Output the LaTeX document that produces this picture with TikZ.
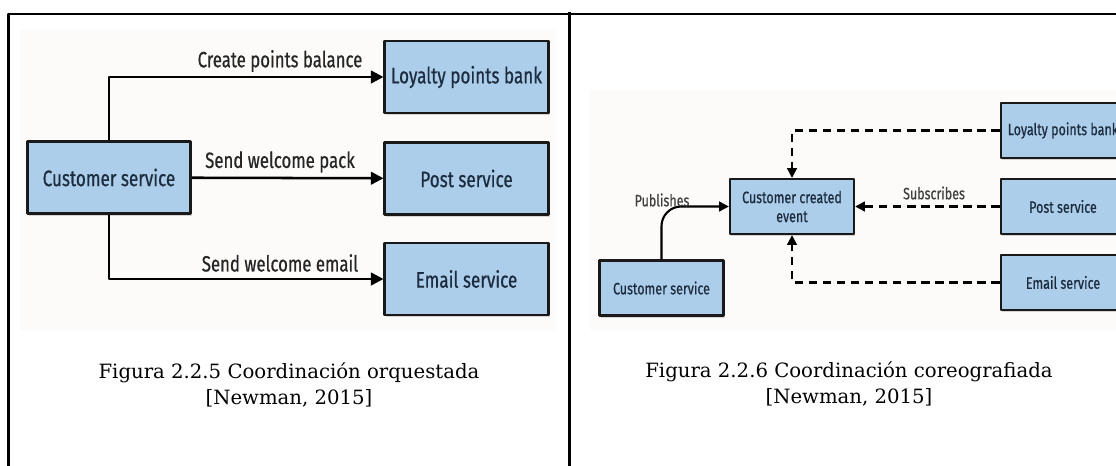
\documentclass[tikz,border=0pt]{standalone}
\usepackage{fontspec}
\setmainfont{DejaVu Serif}
\newfontfamily\boxfont[FakeStretch=0.76, FakeBold=0.6]{Fira Sans}
\usetikzlibrary{arrows.meta,shadows}
\definecolor{boxblue}{RGB}{172,206,234}
\definecolor{boxtext}{RGB}{28,44,62}
\definecolor{imgback}{RGB}{252,251,250}
\tikzset{
	svc/.style={draw=black!90, line width=2pt, fill=boxblue, text=boxtext, inner sep=0pt,
		drop shadow={shadow xshift=1pt, shadow yshift=-1.5pt, opacity=.3}},
	bigsvc/.style={svc, minimum width=4.08cm, minimum height=1.8cm, font=\boxfont\fontsize{16}{18}\selectfont},
	smallsvc/.style={svc, line width=1.6pt, minimum width=3.1cm, minimum height=1.375cm, align=center, font=\boxfont\fontsize{11.7}{13.5}\selectfont},
	biglbl/.style={inner sep=0pt, text=black!85, font=\boxfont\fontsize{15.7}{18}\selectfont},
	smalllbl/.style={inner sep=0pt, text=black!75, font=\boxfont\fontsize{11.7}{13}\selectfont},
	capt/.style={inner sep=0pt, align=center, font=\fontsize{14}{18.5}\selectfont},
}
\begin{document}
\begin{tikzpicture}[x=0.025cm, y=-0.025cm, line join=round, >={Triangle[length=9pt,width=9pt]}]
	\clip (0,0) rectangle (1116,466);
	% table frame
	\draw[line width=2pt] (8.5,466)--(8.5,14)--(1116,14) (569.5,12)--(569.5,466);
	\fill[imgback] (20,30) rectangle (556,330) (590,90) rectangle (1116,330);
	% orquestada
	\node[bigsvc] (cs1) at (109,177.5) {Customer service};
	\foreach \n/\y/\t in {lpb1/77/Loyalty points bank, ps1/178.5/Post service, es1/279/Email service}
	\node[bigsvc] (\n) at (466.5,\y) {\t};
	\draw[->, line width=1.8pt] (cs1.north) |- (lpb1);
	\draw[->, line width=1.8pt] (cs1) -- (ps1);
	\draw[->, line width=1.8pt] (cs1.south) |- (es1);
	\node[biglbl] (l1) at (280,61) {Create points balance};
	\node[biglbl] (l2) at (280,162) {Send welcome pack};
	\node[biglbl] (l3) at (280,263) {Send welcome email};
	\node[capt] (cap1) at (289,385) {Figura 2.2.5 Coordinación orquestada\\{[Newman, 2015]}};
	% coreografiada
	\node[smallsvc] (cs2) at (661.5,288) {Customer service};
	\node[smallsvc] (cce) at (792,206.5) {Customer created\\event};
	\foreach \n/\y/\t in {lpb2/130.5/Loyalty points bank, ps2/206.5/Post service, es2/282.5/Email service}
	\node[smallsvc] (\n) at (1063,\y) {\t};
	\draw[->, line width=1.5pt, rounded corners=14pt, >={Triangle[length=7pt,width=7pt]}] (cs2.north) |- (cce.west);
	\begin{scope}[line width=1.5pt, dash pattern=on 6pt off 4pt, >={Triangle[length=7pt,width=7pt]}]
		\draw[->] (lpb2.west) -| (cce.north);
		\draw[->] (ps2) -- (cce);
		\draw[->] (es2.west) -| (cce.south);
	\end{scope}
	\node[smalllbl] (l4) at (662,200) {Publishes};
	\node[smalllbl] (l5) at (934,193) {Subscribes};
	\node[capt] (cap2) at (849,383.5) {Figura 2.2.6 Coordinación coreografiada\\{[Newman, 2015]}};
\end{tikzpicture}
\end{document}
